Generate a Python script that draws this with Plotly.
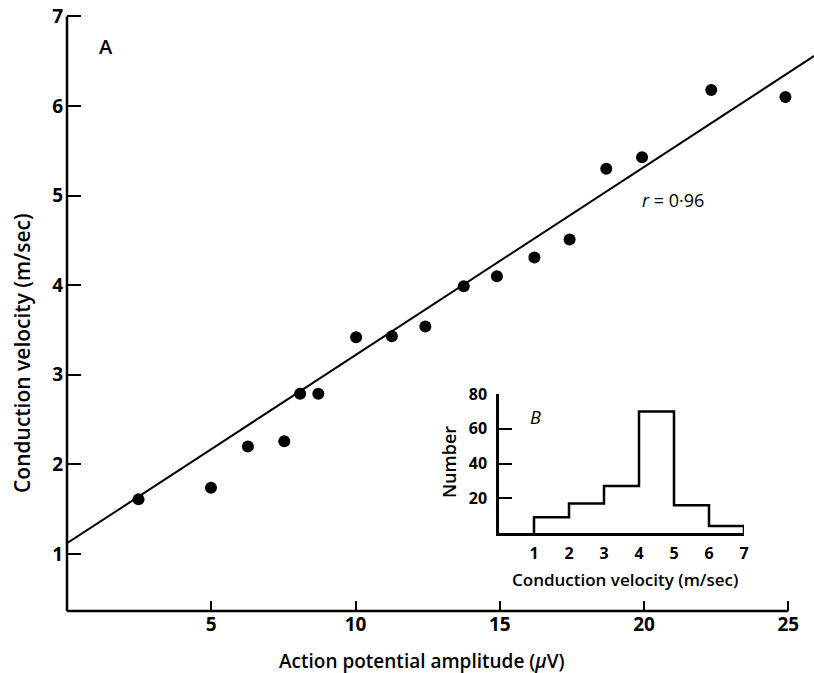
import plotly.graph_objects as go

# ---- main scatter data (panel A) ----
amplitude_uV = [2.48, 4.99, 6.27, 7.53, 8.08, 8.71, 10.02, 11.26, 12.42, 13.75,
                14.90, 16.20, 17.42, 18.69, 19.93, 22.33, 24.90]
velocity_ms = [1.61, 1.74, 2.20, 2.26, 2.79, 2.79, 3.42, 3.43, 3.54, 3.99,
               4.10, 4.31, 4.51, 5.30, 5.43, 6.18, 6.10]
fit_x = [0.0, 25.9]
fit_y = [1.12, 6.56]

x_ticks = [5, 10, 15, 20, 25]
y_ticks = [1, 2, 3, 4, 5, 6, 7]
x_range = [0, 25.89]
y_range = [0.364, 7.05]
x_axis_end = 25
y_axis_end = 7

# ---- inset histogram (panel B) ----
hist_edges = [1, 2, 3, 4, 5, 6, 7]
hist_counts = [9, 17, 27, 70, 16, 4]
inset_x_ticks = [1, 2, 3, 4, 5, 6, 7]
inset_y_ticks = [20, 40, 60, 80]

FONT = "Open Sans"
BLACK = "#000000"

fig = go.Figure()

fig.add_trace(go.Scatter(x=fit_x, y=fit_y, mode="lines",
                         line=dict(color=BLACK, width=2), showlegend=False,
                         hoverinfo="skip"))
fig.add_trace(go.Scatter(x=amplitude_uV, y=velocity_ms, mode="markers",
                         marker=dict(color=BLACK, size=12), showlegend=False))

step_x = [hist_edges[0]] + hist_edges[:-1] + [hist_edges[-1]]
step_y = [0] + hist_counts + [0]
fig.add_trace(go.Scatter(x=step_x, y=step_y, mode="lines", line_shape="hv",
                         line=dict(color=BLACK, width=2.5), showlegend=False,
                         xaxis="x2", yaxis="y2"))

tickfont = dict(family=FONT, size=19, color=BLACK, weight=700)
inset_tickfont = dict(family=FONT, size=16, color=BLACK, weight=700)

# body margin is removed by the post script, so the figure fills the window;
# the plot area lands at x 67..814, y 12..611
W, H = 814, 673
ML, MT, MB = 67, 12, 62
plot_h = H - MT - MB
bottom_px = H - MB
left_px = ML
plot_w = W - ML


def px(x):
    return (x - left_px) / plot_w


def py(y):
    return (bottom_px - y) / plot_h


fig.update_layout(
    width=W, height=H,
    margin=dict(l=ML, r=0, t=MT, b=MB, autoexpand=False),
    paper_bgcolor="white", plot_bgcolor="white",
    font=dict(family=FONT, color=BLACK),
    xaxis=dict(range=x_range, domain=[0, 1], showgrid=False, zeroline=False,
               showline=False, ticks="inside", tickvals=x_ticks, ticklen=10,
               tickwidth=2, tickcolor=BLACK, tickfont=tickfont,
               ticklabelstandoff=0, ticklabeloverflow="allow"),
    yaxis=dict(range=y_range, domain=[0, 1], showgrid=False, zeroline=False,
               showline=False, ticks="inside",
               tickvals=y_ticks, ticklen=14, tickwidth=2, tickcolor=BLACK,
               tickfont=tickfont, ticklabelstandoff=3,
               ticklabeloverflow="allow"),
    xaxis2=dict(anchor="y2", domain=[px(499), px(744)], range=[0, 7],
                showgrid=False, zeroline=False, showline=True, linewidth=2.5,
                linecolor=BLACK, ticks="", tickvals=inset_x_ticks,
                tickfont=inset_tickfont, ticklabelstandoff=4),
    yaxis2=dict(anchor="x2", domain=[py(533), py(394)], range=[0, 80],
                showgrid=False, zeroline=False, showline=True, linewidth=2.5,
                linecolor=BLACK, ticks="inside", tickvals=inset_y_ticks,
                ticklen=13, tickwidth=2, tickcolor=BLACK,
                tickfont=inset_tickfont, ticklabelstandoff=6),
)

# axis lines of the main panel (x ends at 25, y ends at 7)
fig.add_shape(type="line", xref="paper", yref="paper",
              x0=0, x1=x_axis_end / x_range[1], y0=0, y1=0,
              line=dict(color=BLACK, width=2.5))
fig.add_shape(type="line", xref="paper", yref="paper", x0=0, x1=0, y0=0,
              y1=(y_axis_end - y_range[0]) / (y_range[1] - y_range[0]),
              line=dict(color=BLACK, width=2.5))

C = dict(xanchor="center", yanchor="middle", showarrow=False)
ann = [
    dict(text="A", xref="x", yref="y", x=1.36, y=6.67,
         font=dict(family=FONT, size=20, weight=600), **C),
    dict(text="<i>r</i> = 0·96", xref="x", yref="y", x=21.0, y=4.95,
         font=dict(family=FONT, size=18), **C),
    dict(text="<i>B</i>", xref="x2", yref="y2", x=1.03, y=67,
         font=dict(family=FONT, size=18), **C),
    dict(text="Action potential amplitude (<i>μ</i>V)", xref="paper",
         yref="paper", x=px(422), y=py(661),
         font=dict(family=FONT, size=19, weight=600), **C),
    dict(text="Conduction velocity (m/sec)", xref="paper", yref="paper",
         x=px(22), y=py(353), textangle=-90,
         font=dict(family=FONT, size=21, weight=600), **C),
    dict(text="Number", xref="paper", yref="paper",
         x=px(449), y=py(462), textangle=-90,
         font=dict(family=FONT, size=18, weight=600), **C),
    dict(text="Conduction velocity (m/sec)", xref="paper", yref="paper",
         x=px(625), y=py(579),
         font=dict(family=FONT, size=17, weight=600), **C),
]
fig.update_layout(annotations=ann)

fig.write_html(
    "out.html",
    config={"displayModeBar": False},
    post_script="document.body.style.margin='0px';"
                "document.body.style.overflow='hidden';",
)
